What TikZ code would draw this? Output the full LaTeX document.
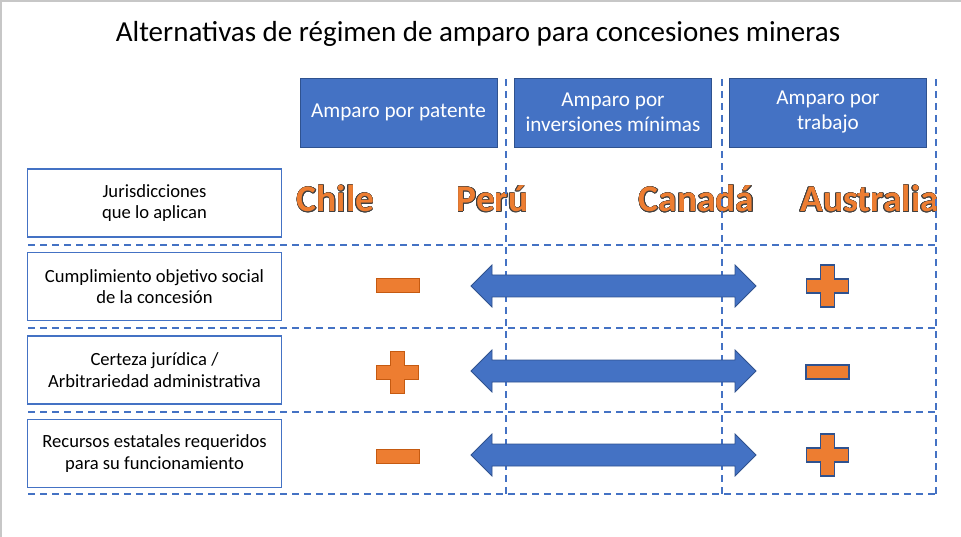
\documentclass[tikz,border=0pt]{standalone}
\usepackage{fontspec}
\setmainfont{Carlito}
\usepackage[copies]{contour}
\usetikzlibrary{positioning,calc}

\definecolor{amblue}{HTML}{4472C4}
\definecolor{amdark}{HTML}{2F528F}
\definecolor{amorange}{HTML}{ED7D31}
\definecolor{amrust}{HTML}{C55A11}
\definecolor{amline}{HTML}{404040}
\contourlength{0.5pt}

\tikzset{
  rowbox/.style={draw=amblue, line width=1.4pt, fill=white, minimum width=254pt,
    minimum height=68pt, align=center, font=\fontsize{18.6}{21.5}\selectfont},
  headbox/.style={draw=amdark, line width=0.8pt, fill=amblue, text=white,
    minimum width=197pt, minimum height=69pt, align=center,
    font=\fontsize{21.2}{25}\selectfont},
  country/.style={text=amorange, font=\fontsize{37.5}{42}\bfseries\selectfont},
  gridline/.style={draw=amblue, line width=1.3pt, dash pattern=on 7pt off 5pt},
  plusmark/.pic={
    \path[pic actions] (-7,-21) -- (7,-21) -- (7,-7) -- (21,-7) -- (21,7) -- (7,7)
      -- (7,21) -- (-7,21) -- (-7,7) -- (-21,7) -- (-21,-7) -- (-7,-7) -- cycle;
  },
  minusmark/.pic={
    \path[pic actions] (-21.5,-7) rectangle (21.5,7);
  },
  twoway/.pic={
    \path[pic actions] (-142.5,0) -- (-121.5,-21) -- (-121.5,-11) -- (121.5,-11)
      -- (121.5,-21) -- (142.5,0) -- (121.5,21) -- (121.5,11) -- (-121.5,11)
      -- (-121.5,21) -- cycle;
  },
  goodleft/.style={fill=amorange, draw=amrust, line width=0.8pt},
  goodright/.style={fill=amorange, draw=amdark, line width=1.2pt},
}

\begin{document}
\begin{tikzpicture}[x=1pt, y=-1pt]
  \useasboundingbox (0,0) rectangle (961,537);
  \draw[black!22, line width=1.5pt] (0,1) -- (961,1);
  \draw[black!22, line width=1.5pt] (1,0) -- (1,537);

  \node (title) at (478,34) {\fontsize{29}{34}\selectfont
    Alternativas de régimen de amparo para concesiones mineras};

  % cabeceras
  \node[headbox] (patente) at (398.5,112.5) {Amparo por patente};
  \node[headbox] (inversion) at (613,112.5) {Amparo por\\inversiones mínimas};
  \node[headbox] (trabajo) at (828,112.5) {Amparo por\\trabajo};

  % filas
  \node[rowbox] (juris) at (154.5,203) {Jurisdicciones\\que lo aplican};
  \node[rowbox] (social) at (154.5,286.5) {Cumplimiento objetivo social\\de la concesión};
  \node[rowbox] (certeza) at (154.5,370) {Certeza jurídica /\\Arbitrariedad administrativa};
  \node[rowbox] (recursos) at (154.5,453.5) {Recursos estatales requeridos\\para su funcionamiento};

  % paises
  \node[country] (chile) at (335.5,199) {\contour{amline}{Chile}};
  \node[country] (peru) at (492.5,199) {\contour{amline}{Perú}};
  \node[country] (canada) at (696.5,199) {\contour{amline}{Canadá}};
  \node[country] (australia) at (869.5,199) {\contour{amline}{Australia}};

  % lineas punteadas
  \foreach \yy in {245,328,412,494}
    \draw[gridline] (28,\yy) -- (936,\yy);
  \foreach \xx in {506,722,936}
    \draw[gridline] (\xx,79) -- (\xx,494);

  % valoraciones
  \pic[goodleft] at (397.5,285) {minusmark};
  \pic[goodright] at (827.5,286) {plusmark};
  \pic[goodleft] at (397.5,372) {plusmark};
  \pic[goodright] at (827.5,372) {minusmark};
  \pic[goodleft] at (397.5,456) {minusmark};
  \pic[goodright] at (827.5,455) {plusmark};

  \foreach \yy in {286,371,455}
    \pic[fill=amblue, draw=amdark, line width=0.8pt] at (613.5,\yy) {twoway};
\end{tikzpicture}
\end{document}
